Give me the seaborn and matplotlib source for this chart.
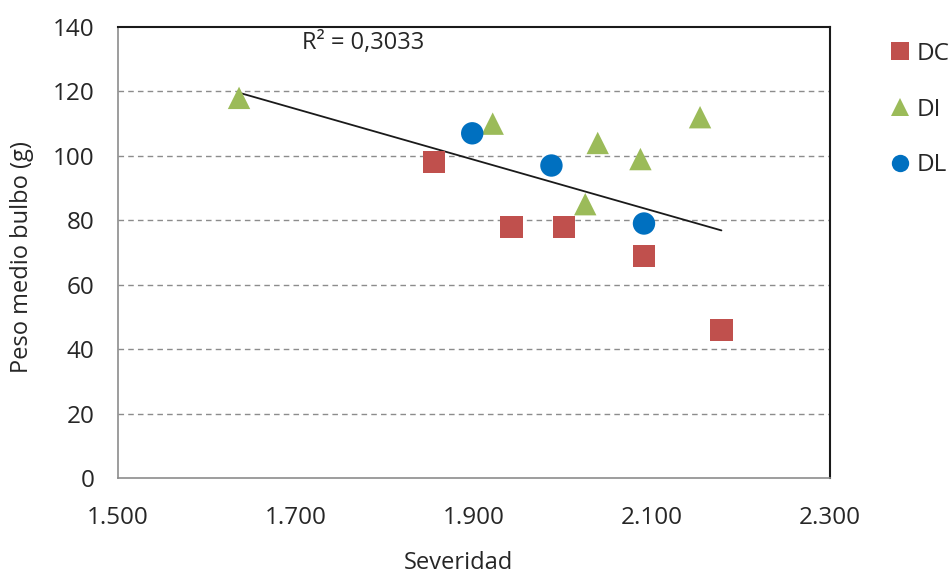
import matplotlib
matplotlib.use("Agg")
import matplotlib.pyplot as plt
import seaborn as sns
import pandas as pd
import numpy as np
from matplotlib.ticker import FuncFormatter
from matplotlib.lines import Line2D

# Data
dc_x = [1855, 1942, 2001, 2091, 2178]
dc_y = [98, 78, 78, 69, 46]
di_x = [1636, 1921, 2025, 2039, 2087, 2154]
di_y = [118, 110, 85, 104, 99, 112]
dl_x = [1898, 1987, 2091]
dl_y = [107, 97, 79]
groups = ["DC", "DI", "DL"]
colors = {"DC": "#C0504D", "DI": "#9BBB59", "DL": "#0070C0"}
markers = {"DC": "s", "DI": "^", "DL": "o"}
x_ticks = [1500, 1700, 1900, 2100, 2300]
y_ticks = [0, 20, 40, 60, 80, 100, 120, 140]
r2_label = "R² = 0,3033"

df = pd.DataFrame({
    "Severidad": dc_x + di_x + dl_x,
    "Peso": dc_y + di_y + dl_y,
    "Grupo": ["DC"] * len(dc_x) + ["DI"] * len(di_x) + ["DL"] * len(dl_x),
})

sns.set_style("white")
plt.rcParams["font.family"] = ["Open Sans", "DejaVu Sans"]

fig = plt.figure(figsize=(9.49, 5.77), dpi=100)
ax = fig.add_axes([118 / 949, 1 - 478 / 577, (830 - 118) / 949, (478 - 27) / 577])

for y in y_ticks[1:-1]:
    ax.axhline(y, color="#8C8C8C", lw=1.0, ls=(0, (4, 3)), zorder=0)

sns.regplot(data=df, x="Severidad", y="Peso", ci=None, scatter=False, truncate=True,
            line_kws={"color": "#1a1a1a", "lw": 1.3, "zorder": 2}, ax=ax)

sns.scatterplot(data=df, x="Severidad", y="Peso", hue="Grupo", style="Grupo",
                palette=colors, markers=markers, hue_order=groups, style_order=groups,
                s=260, linewidth=0, ax=ax, zorder=3, legend=False)

ax.set_xlim(1500, 2300)
ax.set_ylim(0, 140)
ax.set_xticks(x_ticks)
ax.set_yticks(y_ticks)
ax.xaxis.set_major_formatter(FuncFormatter(lambda v, p: f"{int(v):,}".replace(",", ".")))

for side in ["left", "bottom"]:
    ax.spines[side].set_color("#8C8C8C")
    ax.spines[side].set_linewidth(1.2)
for side in ["top", "right"]:
    ax.spines[side].set_color("#1a1a1a")
    ax.spines[side].set_linewidth(1.5)

ax.tick_params(axis="y", which="major", direction="inout", length=12, width=1.1,
               color="#8C8C8C", labelsize=17.5, labelcolor="#262626", pad=11, right=False)
ax.tick_params(axis="x", which="major", direction="out", length=7, width=1.1,
               color="#8C8C8C", labelsize=17.5, labelcolor="#262626", pad=13, top=False)

ax.set_xlabel("Severidad", fontsize=17, color="#262626")
ax.xaxis.set_label_coords((458 - 118) / (830 - 118), -(551 - 478) / (478 - 27))
ax.set_ylabel("Peso medio bulbo (g)", fontsize=17, color="#262626")
ax.yaxis.set_label_coords(-(118 - 34) / (830 - 118), 0.49)

ax.text(1707, 135, r2_label, fontsize=17, color="#262626", va="center", ha="left")

# Legend
handles = [Line2D([], [], ls="none", marker=markers[g], color=colors[g], markersize=12.5,
                  markeredgewidth=0) for g in groups]
fig.legend(handles, groups, loc="upper left", bbox_to_anchor=(886 / 949, 1 - 42 / 577),
           frameon=False, fontsize=17.5, labelspacing=1.3, handletextpad=0.1,
           handlelength=1.15, borderpad=0, borderaxespad=0, labelcolor="#262626")

fig.savefig("out.png", dpi=100)
